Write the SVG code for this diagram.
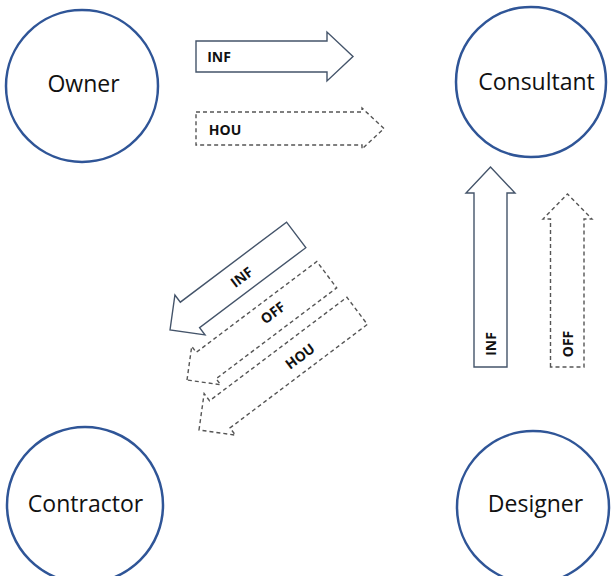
<svg xmlns="http://www.w3.org/2000/svg" width="611" height="576" viewBox="0 0 611 576">
  <style>
    .node { fill: #ffffff; stroke: #2f5597; stroke-width: 2.5; }
    .name { font-family: "Open Sans", "Liberation Sans", sans-serif; font-size: 23px; fill: #111111; text-anchor: middle; }
    .flow { fill: #ffffff; stroke: #44546a; stroke-width: 1.4; stroke-linejoin: miter; }
    .flow.dashed { stroke: #555555; stroke-dasharray: 4 3; }
    .tag { font-family: "Open Sans", "Liberation Sans", sans-serif; font-size: 14px; font-weight: bold; fill: #111111; text-anchor: middle; }
  </style>
  <rect width="611" height="576" fill="#ffffff"/>

  <g id="connectors">
    <!-- Owner to Consultant -->
    <g id="owner-consultant-inf">
      <path class="flow" d="M196,41 L327,41 L327,32 L353,56.5 L327,81 L327,72 L196,72 Z"/>
      <text class="tag" x="219" y="62">INF</text>
    </g>
    <g id="owner-consultant-hou">
      <path class="flow dashed" d="M196,112 L362,112 L362,108 L384,128.5 L362,149 L362,145 L196,145 Z"/>
      <text class="tag" x="225" y="135">HOU</text>
    </g>

    <!-- Designer to Consultant -->
    <g id="designer-consultant-inf">
      <path class="flow" d="M474,367 L474,193 L466,193 L490.5,167 L515,193 L507,193 L507,367 Z"/>
      <text class="tag" transform="translate(490.5,344) rotate(-90)" x="0" y="5">INF</text>
    </g>
    <g id="designer-consultant-off">
      <path class="flow dashed" d="M550.5,367 L550.5,219 L543,219 L567.5,194 L592,219 L584,219 L584,367 Z"/>
      <text class="tag" transform="translate(567.5,344) rotate(-90)" x="0" y="5">OFF</text>
    </g>

    <!-- Consultant to Contractor (diagonal) -->
    <g id="consultant-contractor-inf" transform="translate(170,330) rotate(-37)">
      <path class="flow" d="M0,0 L25,-25 L25,-16 L158,-16 L158,16 L25,16 L25,25 Z"/>
      <text class="tag" x="89" y="6">INF</text>
    </g>
    <g id="consultant-contractor-off" transform="translate(187,380) rotate(-37)">
      <path class="flow dashed" d="M0,0 L24,-24 L24,-16.5 L175,-16.5 L175,16.5 L24,16.5 L24,24 Z"/>
      <text class="tag" x="109" y="3">OFF</text>
    </g>
    <g id="consultant-contractor-hou" transform="translate(199,430) rotate(-37)">
      <path class="flow dashed" d="M0,0 L26,-26 L26,-17 L198,-17 L198,17 L26,17 L26,26 Z"/>
      <text class="tag" x="125" y="7">HOU</text>
    </g>
  </g>

  <g id="owner">
    <circle class="node" cx="82" cy="86" r="76"/>
    <text class="name" x="83.5" y="92">Owner</text>
  </g>
  <g id="consultant">
    <circle class="node" cx="531" cy="82" r="75"/>
    <text class="name" x="536.5" y="90">Consultant</text>
  </g>
  <g id="contractor">
    <circle class="node" cx="85" cy="505" r="78"/>
    <text class="name" x="85.5" y="512">Contractor</text>
  </g>
  <g id="designer">
    <circle class="node" cx="533" cy="507" r="76"/>
    <text class="name" x="535.5" y="512">Designer</text>
  </g>
</svg>
